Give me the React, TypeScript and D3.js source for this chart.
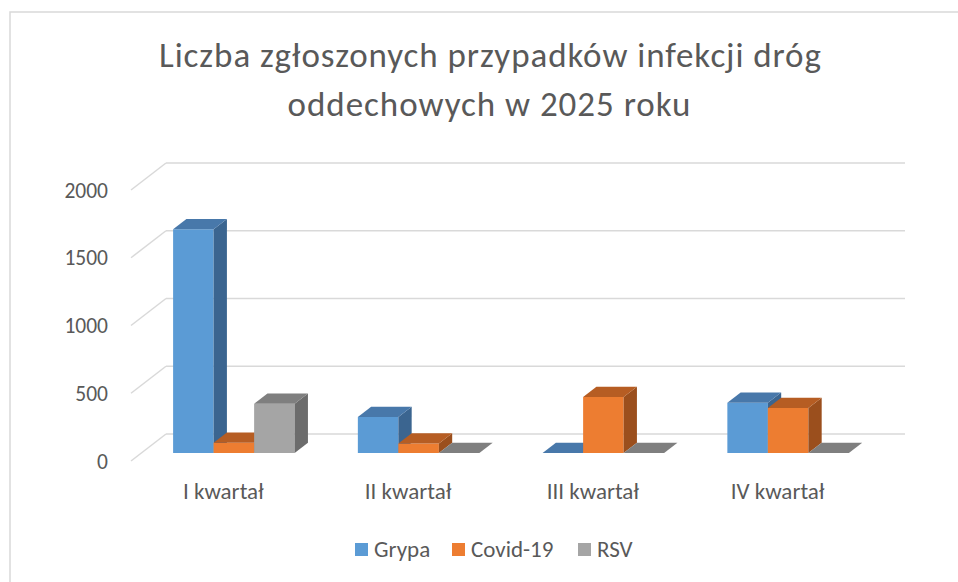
import React from "react";
import * as d3 from "d3";

const categories = ["I kwartał", "II kwartał", "III kwartał", "IV kwartał"];
const seriesNames = ["Grypa", "Covid-19", "RSV"];
const grypa = [1650, 265, 0, 370];
const covid = [74, 70, 413, 332];
const rsv = [362, 0, 0, 0];
const yTicks = [0, 500, 1000, 1500, 2000];
const titleLines = ["Liczba zgłoszonych przypadków infekcji dróg", "oddechowych w 2025 roku"];

const seriesValues = [grypa, covid, rsv];
const colors = [
  { front: "#5b9bd5", top: "#4878aa", side: "#3b6590" },
  { front: "#ed7d31", top: "#b65d23", side: "#9b4f1d" },
  { front: "#a5a5a5", top: "#7f7f7f", side: "#6c6c6c" },
];

const W = 958;
const H = 582;
const FONT = "Carlito, Calibri, Lato, sans-serif";
const TXT = "#595959";

// front plane geometry
const X0 = 131;
const X1 = 870;
const DX = 35;
const DY = -27;
const D0 = 0.3;
const D1 = 0.68;

const titleLayout = [
  { x: 490, y: 67, len: 662 },
  { x: 489, y: 116, len: 403 },
];

export default function App() {
  const y = d3.scaleLinear().domain([0, 2000]).range([461, 190]);
  const xc = d3.scaleBand<string>().domain(categories).range([X0, X1]).paddingInner(0).paddingOuter(0);
  const xs = d3
    .scaleBand<string>()
    .domain(seriesNames)
    .range([0, xc.bandwidth()])
    .paddingInner(0)
    .paddingOuter(0.78);

  const P = (x: number, v: number, d: number): [number, number] => [x + d * DX, y(v) + d * DY];
  const poly = (pts: [number, number][]) => pts.map((p) => p.join(",")).join(" ");

  const bars: JSX.Element[] = [];
  categories.forEach((c, ci) => {
    seriesNames.forEach((s, si) => {
      const v = seriesValues[si][ci];
      const xa = (xc(c) as number) + (xs(s) as number);
      const xb = xa + xs.bandwidth();
      const col = colors[si];
      const front = poly([P(xa, 0, D0), P(xb, 0, D0), P(xb, v, D0), P(xa, v, D0)]);
      const top = poly([P(xa, v, D0), P(xb, v, D0), P(xb, v, D1), P(xa, v, D1)]);
      const side = poly([P(xb, 0, D0), P(xb, 0, D1), P(xb, v, D1), P(xb, v, D0)]);
      bars.push(
        <g key={`${ci}-${si}`}>
          {v > 0 && <polygon points={front} fill={col.front} />}
          {v > 0 && <polygon points={side} fill={col.side} />}
          <polygon points={top} fill={col.top} />
        </g>
      );
    });
  });

  const legendX = [355, 452, 578];

  return (
    <svg width={W} height={H} style={{ position: "absolute", left: 0, top: 0, background: "#fff" }}>
      <rect x={10} y={12} width={W + 20} height={H + 20} fill="#fff" stroke="#d9d9d9" strokeWidth={1.5} />
      {titleLines.map((t, i) => (
        <text
          key={i}
          x={titleLayout[i].x}
          y={titleLayout[i].y}
          textAnchor="middle"
          fontFamily={FONT}
          fontSize={35}
          fill={TXT}
          textLength={titleLayout[i].len}
          lengthAdjust="spacing"
        >
          {t}
        </text>
      ))}
      {yTicks.map((t) => (
        <g key={t}>
          <line x1={X0} y1={y(t)} x2={X0 + DX} y2={y(t) + DY} stroke="#d9d9d9" strokeWidth={1.5} />
          <line x1={X0 + DX} y1={y(t) + DY} x2={X1 + DX} y2={y(t) + DY} stroke="#d9d9d9" strokeWidth={1.5} />
          <text x={108} y={y(t) + 7.5} textAnchor="end" fontFamily={FONT} fontSize={21.5} fill={TXT}>
            {t}
          </text>
        </g>
      ))}
      {bars}
      {categories.map((c) => (
        <text
          key={c}
          x={(xc(c) as number) + xc.bandwidth() / 2}
          y={499}
          textAnchor="middle"
          fontFamily={FONT}
          fontSize={23}
          fill={TXT}
        >
          {c}
        </text>
      ))}
      {seriesNames.map((s, i) => (
        <g key={s}>
          <rect x={legendX[i]} y={543} width={13} height={13} fill={colors[i].front} />
          <text x={legendX[i] + 19} y={557} fontFamily={FONT} fontSize={23} fill={TXT}>
            {s}
          </text>
        </g>
      ))}
    </svg>
  );
}
